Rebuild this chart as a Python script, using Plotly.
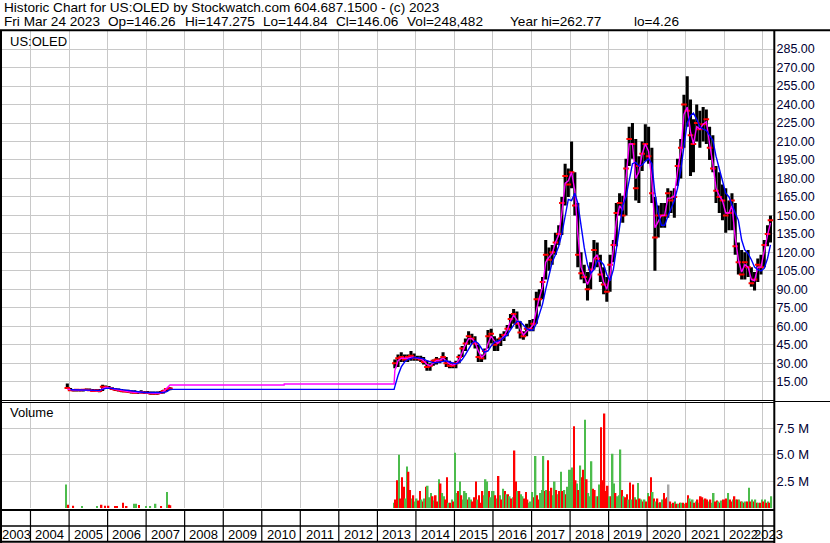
import plotly.graph_objects as go
import pandas as pd
from datetime import datetime, timedelta

W, H = 830, 543

# ---------------- data ----------------
# early period, monthly (Dec 2004 .. Aug 2007)
early_start, early_end = "2004-12-01", "2007-08-01"
early_high = [13.5, 10.0, 9.0, 9.0, 9.0, 9.0, 9.5, 9.5, 9.0, 9.0, 9.0, 12.5,
              12.0, 11.5, 10.5, 10.0, 9.5, 9.0, 8.5, 8.5, 8.0, 8.0, 7.5, 8.0,
              7.5, 7.5, 7.0, 7.0, 7.0, 7.5, 8.5, 10.0, 10.5]
early_low = [9.0, 7.5, 7.0, 7.5, 7.5, 7.0, 7.5, 7.5, 7.0, 7.0, 6.5, 7.5,
             9.5, 9.0, 8.5, 7.5, 7.0, 6.5, 6.5, 6.0, 5.5, 5.5, 5.0, 5.5,
             5.0, 5.0, 4.5, 4.5, 4.5, 5.0, 5.5, 7.0, 8.0]
early_close = [10.0, 8.0, 8.0, 8.5, 8.0, 8.5, 8.5, 8.0, 7.5, 8.0, 7.5, 11.0,
               10.5, 10.0, 9.0, 8.5, 8.0, 7.5, 7.0, 7.0, 6.5, 6.0, 6.5, 6.5,
               6.0, 6.0, 5.5, 5.5, 5.5, 6.0, 7.5, 9.0, 9.5]
early_ma1 = [9.0, 8.5, 8.2, 8.2, 8.2, 8.2, 8.4, 8.2, 7.8, 7.8, 7.6, 9.5,
             10.5, 10.3, 9.5, 8.8, 8.2, 7.8, 7.2, 7.0, 6.7, 6.3, 6.3, 6.5,
             6.2, 6.0, 5.8, 5.6, 5.6, 5.8, 7.0, 9.5, 12.3]
early_ma2 = [None, 8.5, 8.4, 8.3, 8.3, 8.3, 8.3, 8.3, 8.2, 8.1, 8.0, 8.8,
             9.6, 9.7, 9.6, 9.3, 9.0, 8.6, 8.2, 7.8, 7.4, 7.0, 6.7, 6.5,
             6.3, 6.2, 6.1, 6.1, 6.1, 6.1, 6.2, 7.0, 8.8]

# moving averages held flat across the data gap
gap_dates = ["2010-08-01", "2010-08-02", "2013-06-08"]
gap_ma1 = [12.3, 13.2, 13.2]
gap_ma2 = [8.8, 8.8, 8.8]

# modern period, monthly (Jun 2013 .. Mar 2023)
modern_start, modern_end = "2013-06-01", "2023-03-01"
modern_high = [33, 37, 39, 37, 37, 40, 38,
               36, 36, 35, 32, 30, 33, 35, 34, 39, 35, 32, 30,
               32, 37, 44, 50, 56, 54, 52, 45, 37, 42, 57, 58,
               52, 50, 54, 56, 61, 70, 74, 72, 64, 56, 62, 65,
               66, 88, 90, 100, 130, 124, 126, 136, 142, 165, 192, 188,
               210, 185, 160, 120, 110, 104, 112, 130, 128, 118, 108, 100,
               118, 130, 160, 168, 166, 196, 222, 225, 212, 198, 210, 224,
               222, 205, 165, 158, 160, 160, 172, 170, 172, 196, 212, 248,
               263, 244, 228, 240, 235, 238, 236, 222, 215, 190, 185, 175,
               172, 162, 168, 160, 128, 122, 120, 122, 108, 104, 115, 118,
               130, 142, 150]
modern_low = [26, 27, 31, 31, 31, 32, 32,
              32, 31, 29, 24, 24, 28, 29, 30, 31, 27, 26, 26,
              26, 30, 35, 40, 45, 46, 42, 31, 31, 33, 42, 46,
              40, 40, 44, 48, 52, 58, 62, 58, 50, 49, 52, 56,
              56, 62, 76, 82, 98, 105, 110, 118, 126, 134, 158, 165,
              172, 150, 108, 98, 95, 81, 90, 106, 108, 96, 86, 80,
              88, 112, 125, 150, 144, 150, 190, 196, 162, 160, 186, 194,
              192, 160, 105, 132, 140, 140, 148, 152, 148, 174, 180, 205,
              222, 182, 185, 210, 205, 210, 208, 195, 185, 160, 152, 146,
              136, 138, 138, 118, 102, 98, 98, 100, 92, 89, 96, 102,
              108, 125, 128]
modern_close = [30, 34, 35, 33, 35, 36, 34,
                34, 33, 31, 27, 28, 32, 33, 32, 35, 30, 28, 28,
                30, 35, 42, 46, 52, 50, 46, 35, 34, 40, 52, 54,
                45, 47, 50, 53, 58, 66, 70, 62, 55, 52, 58, 58,
                62, 82, 82, 96, 118, 114, 120, 128, 135, 160, 182, 175,
                185, 158, 118, 103, 100, 90, 106, 122, 115, 102, 94, 88,
                110, 126, 152, 160, 150, 188, 212, 208, 172, 190, 200, 208,
                198, 168, 132, 150, 150, 150, 168, 162, 165, 190, 205, 240,
                235, 215, 208, 225, 220, 224, 228, 205, 188, 170, 165, 162,
                150, 152, 162, 125, 112, 102, 112, 108, 95, 98, 110, 108,
                126, 135, 146]
modern_ma1 = [24, 32, 34, 34, 34, 35, 35,
              34, 33.5, 32, 29, 28, 30, 32, 32.5, 34, 32, 29.5, 28.5,
              29.5, 33, 39, 45, 50, 50, 47, 40, 35, 37, 46, 52,
              48, 46, 49, 52, 57, 64, 69, 65, 58, 53, 56, 58,
              61, 74, 83, 92, 112, 116, 119, 128, 134, 152, 176, 178,
              185, 170, 135, 108, 101, 94, 100, 115, 118, 106, 96, 90,
              102, 122, 145, 158, 154, 180, 208, 208, 180, 185, 200, 208,
              202, 178, 140, 145, 150, 150, 164, 164, 166, 186, 202, 232,
              238, 218, 208, 222, 220, 224, 226, 208, 192, 172, 166, 162,
              152, 152, 158, 132, 114, 104, 110, 108, 98, 97, 108, 108,
              122, 134, 144]
modern_ma2 = [11, 20, 27, 31, 33, 34, 34.5,
              34.5, 34, 33.5, 32, 31, 30.5, 30.5, 31, 32, 32, 31, 30,
              29.5, 30.5, 33, 37, 42, 46, 48, 46, 42, 39, 40, 44,
              47, 48, 49, 51, 53, 57, 61, 64, 64, 61, 58, 57,
              57, 62, 70, 78, 90, 102, 112, 118, 125, 135, 150, 163,
              162, 168, 160, 140, 124, 110, 103, 106, 113, 113, 110, 102,
              97, 106, 122, 140, 158, 165, 180, 192, 193, 190, 191, 194,
              196, 192, 168, 152, 142, 142, 149, 156, 162, 172, 187, 206,
              225, 231, 233, 228, 222, 220, 219, 215, 211, 198, 188, 176,
              168, 165, 158, 152, 146, 130, 122, 119, 114, 108, 106, 105,
              107, 115, 126]

# early volume (sparse), in millions; G = up, R = down, X = unchanged
early_vol_dates = ["2004-12-05", "2004-12-20", "2005-02-10", "2005-05-01", "2005-09-20",
                   "2005-11-05", "2005-12-05", "2006-01-10", "2006-03-10", "2006-04-01",
                   "2006-05-25", "2006-07-01", "2006-09-10", "2006-09-25", "2006-10-25",
                   "2007-01-01", "2007-02-10", "2007-04-01", "2007-05-25", "2007-07-20",
                   "2007-08-05", "2007-08-20"]
early_vol = [2.2, 0.3, 0.2, 0.12, 0.12, 0.3, 0.2, 0.2, 0.12, 0.12, 0.5, 0.12,
             0.4, 0.4, 0.28, 0.12, 0.12, 0.4, 0.12, 1.5, 0.3, 0.25]
early_dir = "GRRGGRRRRRRRGGRGGGRGRR"

# modern volume, two bars per month (Jun 2013 .. Mar 2023), in millions
modern_vol = [
    0.5, 0.8, 2.6, 5.0, 0.9, 2.9, 2.0, 0.9, 3.9, 3.4, 1.7, 0.9, 1.2, 0.6,
    0.9, 0.7, 1.6, 0.8, 0.6, 0.9, 2.0, 2.1, 1.0, 1.4, 1.1, 0.7, 1.2, 0.6, 2.7, 2.3, 1.4, 1.1, 0.8, 2.9, 0.5, 0.5, 0.8, 0.6,
    5.2, 1.4, 1.6, 2.5, 1.2, 0.8, 1.6, 1.4, 0.8, 1.0, 0.8, 0.6, 1.0, 2.5, 0.8, 1.2, 0.5, 1.6, 1.2, 2.7, 2.5, 1.6, 1.0, 1.6,
    1.6, 1.2, 0.9, 3.0, 1.2, 0.8, 1.8, 1.6, 1.3, 1.3, 1.1, 0.9, 1.0, 5.4, 2.5, 1.6, 1.6, 1.3, 1.1, 0.9, 1.5, 0.8, 0.5, 0.6,
    1.5, 1.0, 4.9, 1.2, 0.8, 1.4, 1.7, 4.9, 1.6, 1.7, 4.5, 1.6, 1.9, 1.2, 2.5, 1.7, 1.3, 1.6, 3.4, 1.6, 1.7, 1.3, 2.0, 3.6,
    3.6, 3.8, 7.7, 2.6, 2.3, 1.7, 4.0, 2.9, 3.6, 8.3, 2.7, 1.4, 1.1, 4.4, 1.8, 1.7, 1.1, 1.1, 2.2, 7.6, 2.6, 8.9, 1.6, 2.1,
    1.1, 1.1, 5.1, 2.3, 1.4, 1.1, 1.2, 5.5, 1.7, 1.1, 1.0, 1.3, 0.8, 2.4, 0.8, 2.2, 1.0, 0.8, 2.35, 0.9, 0.8, 0.6, 0.8, 0.6,
    1.4, 1.1, 2.9, 1.5, 0.9, 0.6, 0.9, 0.5, 0.55, 0.8, 1.4, 0.9, 1.0, 2.2, 0.6, 0.4, 0.5, 0.6, 0.4, 0.4, 0.5, 0.5, 0.5, 0.4,
    0.5, 1.2, 0.9, 0.6, 0.8, 0.5, 0.6, 0.8, 0.5, 1.1, 1.0, 0.8, 0.9, 0.8, 0.6, 0.8, 0.5, 1.4, 0.6, 0.7, 0.6, 0.5, 0.7, 0.8,
    0.8, 0.9, 1.4, 0.8, 0.6, 0.8, 1.1, 0.8, 0.8, 0.8, 0.6, 0.6, 0.5, 0.6, 0.6, 1.9, 0.6, 0.8, 0.6, 0.8, 0.5, 0.5, 0.5, 0.8,
    0.6, 0.8, 0.5, 0.6, 0.5, 1.1,
]
modern_dir = (
    "GRRGRRRGGRRGRG"
    "GRRGRGRGGGRGRRGRGGRRGRGR"
    "GGRGRGGGRGGRRRGRRRGGGRGG"
    "GRGRGRGRGRGRGRRGRGGRRRGG"
    "GRGRRGGGRGRGRGGRGRGRGRGG"
    "GGRRGRGRRGRGGGRRGRGRRRRR"
    "GRGGRGGGRGRRGRGRGRGRGRGR"
    "GRRGRGRGRGRRRXRGRGRGRGRG"
    "RRGRGRGRGRRGRRGRGGRRGRGR"
    "RRGRRGRGRGRGRGRGRGRGRGRG"
    "RGRGRG"
)

year_labels = [str(y) for y in range(2003, 2024)]
price_ticks = list(range(15, 300, 15))
vol_ticks = [2.5, 5.0, 7.5]

header1 = "Historic Chart for US:OLED by Stockwatch.com 604.687.1500 - (c) 2023"
header2_fields = ["Fri Mar 24 2023", "Op=146.26", "Hi=147.275", "Lo=144.84",
                  "Cl=146.06", "Vol=248,482", "Year hi=262.77", "lo=4.26"]
header2_x = [2, 106, 183, 261, 334, 405, 508, 632]   # left edge of each field, px

# ---------------- checks ----------------
early_dates = pd.date_range(early_start, early_end, freq="MS") + pd.Timedelta(days=14)
modern_dates = pd.date_range(modern_start, modern_end, freq="MS") + pd.Timedelta(days=14)
for arr in (early_high, early_low, early_close, early_ma1, early_ma2):
    assert len(arr) == len(early_dates), len(arr)
for arr in (modern_high, modern_low, modern_close, modern_ma1, modern_ma2):
    assert len(arr) == len(modern_dates), len(arr)
month_starts = pd.date_range(modern_start, modern_end, freq="MS")
vol_dates = []
for m in month_starts:
    vol_dates.append(m + pd.Timedelta(days=7))
    vol_dates.append(m + pd.Timedelta(days=22))
assert len(modern_vol) == len(vol_dates), len(modern_vol)
assert len(modern_dir) == len(vol_dates), len(modern_dir)
assert len(early_dir) == len(early_vol) == len(early_vol_dates)

# ---------------- geometry helpers ----------------
PX_PER_YEAR = 38.54
X2004 = 30.5


def px_to_year(x):
    return 2004 + (x - X2004) / PX_PER_YEAR


def year_to_date(t):
    y = int(t)
    return datetime(y, 1, 1) + timedelta(days=(t - y) * (366 if y % 4 == 0 else 365))


def pxx(x):
    return x / W


def pxy(y):
    return 1 - y / H


PLOT_L, PLOT_R = 2.0, 773.5
T_L, T_R = px_to_year(PLOT_L), px_to_year(PLOT_R)
x_range = [year_to_date(T_L), year_to_date(T_R)]

FONT = "Liberation Sans, Arial, sans-serif"
COLORS = {"G": "#4cbc4c", "R": "#ff0000", "X": "#a8a8a8"}
GRID = "#c8c8c8"
HDR_FS = 13.6

fig = go.Figure()

# price high-low bars
all_dates = list(early_dates) + list(modern_dates)
all_high = early_high + modern_high
all_low = early_low + modern_low
all_close = early_close + modern_close
fig.add_trace(go.Bar(
    x=all_dates, base=all_low, y=[h - l for h, l in zip(all_high, all_low)],
    width=29 * 86400000, marker=dict(color="black", line=dict(width=0)),
    xaxis="x", yaxis="y", hoverinfo="skip", showlegend=False))
fig.add_trace(go.Scatter(
    x=all_dates, y=all_close, mode="markers",
    marker=dict(symbol="line-ew", size=4, line=dict(color="#ff0000", width=2)),
    xaxis="x", yaxis="y", hoverinfo="skip", showlegend=False))

ma_dates = list(early_dates) + [pd.Timestamp(d) for d in gap_dates] + list(modern_dates)
fig.add_trace(go.Scatter(
    x=ma_dates, y=early_ma1 + gap_ma1 + modern_ma1, mode="lines",
    line=dict(color="#ff00ff", width=1.4), connectgaps=True,
    xaxis="x", yaxis="y", hoverinfo="skip", showlegend=False))
fig.add_trace(go.Scatter(
    x=ma_dates, y=early_ma2 + gap_ma2 + modern_ma2, mode="lines",
    line=dict(color="#0000ff", width=1.4), connectgaps=True,
    xaxis="x", yaxis="y", hoverinfo="skip", showlegend=False))

# volume
fig.add_trace(go.Bar(
    x=[pd.Timestamp(d) for d in early_vol_dates], y=[v * 1e6 for v in early_vol],
    width=14 * 86400000, marker=dict(color=[COLORS[c] for c in early_dir], line=dict(width=0)),
    xaxis="x2", yaxis="y2", hoverinfo="skip", showlegend=False))
fig.add_trace(go.Bar(
    x=vol_dates, y=[v * 1e6 for v in modern_vol],
    width=15 * 86400000, marker=dict(color=[COLORS[c] for c in modern_dir], line=dict(width=0)),
    xaxis="x2", yaxis="y2", hoverinfo="skip", showlegend=False))

year_grid = [datetime(y, 1, 1) for y in range(2004, 2024)]
xcommon = dict(type="date", range=x_range, domain=[pxx(PLOT_L), pxx(PLOT_R)],
               tickvals=year_grid, showticklabels=False, ticks="", showgrid=True,
               gridcolor=GRID, gridwidth=1, zeroline=False, showline=False, fixedrange=True)

VOL_TOP = (508 - 403) / 10.63 * 1e6

fig.update_layout(
    width=W, height=H, margin=dict(l=0, r=0, t=0, b=0),
    paper_bgcolor="white", plot_bgcolor="white", barmode="overlay",
    showlegend=False,
    xaxis=dict(anchor="y", **xcommon),
    xaxis2=dict(anchor="y2", matches="x", **xcommon),
    yaxis=dict(domain=[pxy(400.2), pxy(30.6)], range=[0, 300], side="right",
               anchor="x", tickvals=price_ticks, ticktext=[f"{v:.2f}" for v in price_ticks],
               showgrid=True, gridcolor=GRID, zeroline=False, showline=False, ticks="",
               tickfont=dict(family=FONT, size=12.5, color="#000033"),
               ticklabelstandoff=2, fixedrange=True),
    yaxis2=dict(domain=[pxy(508), pxy(403)], range=[0, VOL_TOP], side="right",
                anchor="x2", tickvals=[v * 1e6 for v in vol_ticks],
                ticktext=[f"{v:.1f} M" for v in vol_ticks],
                showgrid=True, gridcolor=GRID, zeroline=False, showline=False, ticks="",
                tickfont=dict(family=FONT, size=13, color="#000033"),
                ticklabelstandoff=2, fixedrange=True),
)

shapes = []


def hline(y, x0, x1, w):
    shapes.append(dict(type="line", xref="paper", yref="paper",
                       x0=pxx(x0), x1=pxx(x1), y0=pxy(y), y1=pxy(y),
                       line=dict(color="black", width=w)))


def vline(x, y0, y1, w):
    shapes.append(dict(type="line", xref="paper", yref="paper",
                       x0=pxx(x), x1=pxx(x), y0=pxy(y0), y1=pxy(y1),
                       line=dict(color="black", width=w)))


hline(30.3, 0, W, 2)            # header separator
vline(1.0, 30, 543, 2)          # left frame
vline(774.3, 30, 543, 2)        # right axis line
hline(400.5, 0, 774, 1)         # double separator
hline(402.5, 0, 774, 1)
hline(401.5, 774, W, 1)
hline(510.0, 0, 774, 2)         # bottom of volume panel
hline(526.0, 0, 774, 1.3)       # x band middle
hline(541.8, 0, 774, 2)         # x band bottom

for d in year_grid:
    shapes.append(dict(type="line", xref="x", yref="paper", x0=d, x1=d,
                       y0=pxy(541.5), y1=pxy(510.5), line=dict(color="black", width=1.2)))

annotations = []
for lab in year_labels:
    y = int(lab)
    left, right = max(y, T_L), min(y + 1, T_R)
    annotations.append(dict(x=year_to_date((left + right) / 2), y=pxy(534), xref="x", yref="paper",
                            text=lab, showarrow=False, xanchor="center", yanchor="middle",
                            font=dict(family=FONT, size=13, color="black")))

text_items = [(header1, 2, 7.5, HDR_FS), ("US:OLED", 8, 41, 13), ("Volume", 8, 413, 13)]
text_items += [(f, x, 21.5, HDR_FS) for f, x in zip(header2_fields, header2_x)]
for txt, x, y, fs in text_items:
    annotations.append(dict(x=pxx(x), y=pxy(y), xref="paper", yref="paper",
                            text=txt.replace(" ", "\u00a0"), showarrow=False,
                            xanchor="left", yanchor="middle",
                            font=dict(family=FONT, size=fs, color="black")))

fig.update_layout(shapes=shapes, annotations=annotations)

fig.write_html("out.html", config={"displayModeBar": False},
               post_script="document.body.style.margin='0';document.body.style.overflow='hidden';")
